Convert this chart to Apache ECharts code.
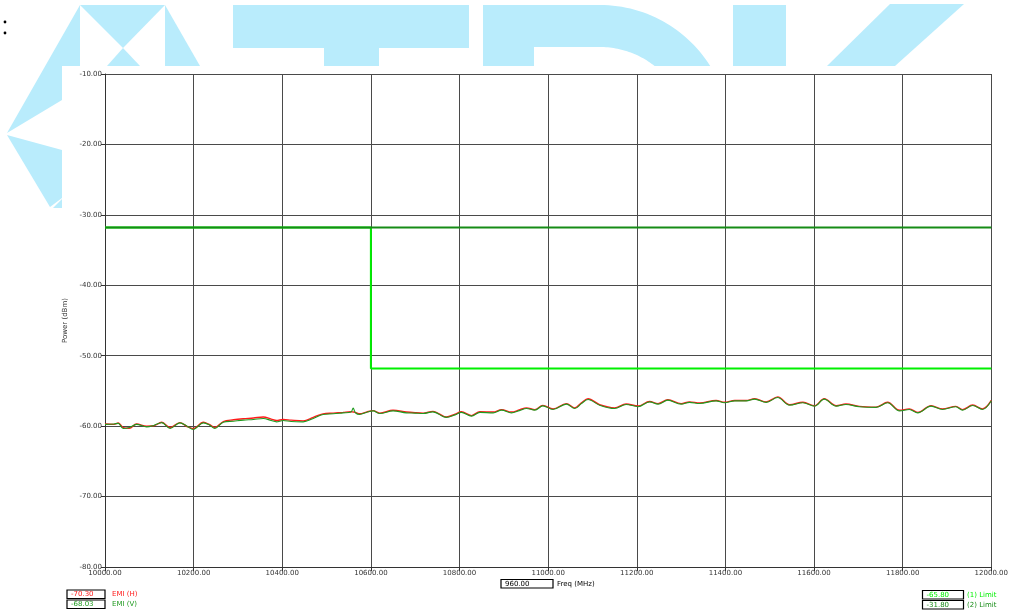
<!DOCTYPE html>
<html><head><meta charset="utf-8">
<script src="https://cdn.jsdelivr.net/npm/echarts@6/dist/echarts.min.js"></script>
<style>html,body{margin:0;padding:0;background:#fff}#c{width:1011px;height:613px}</style>
</head><body><div id="c"></div>
<script>
// ---- data ----
const freq = [10000,10020,10030,10041,10055,10071,10094,10110,10128,10147,10169,10185,10199,10222,10235,10248,10267,10290,10312,10335,10357,10375,10387,10402,10420,10447,10470,10492,10515,10537,10555,10560,10565,10575,10590,10605,10620,10650,10680,10700,10718,10740,10770,10790,10804,10827,10846,10876,10895,10917,10935,10951,10970,10988,11011,11041,11060,11075,11090,11116,11150,11176,11203,11229,11248,11270,11300,11319,11342,11379,11398,11421,11447,11466,11492,11518,11545,11575,11601,11623,11650,11672,11702,11740,11766,11793,11815,11834,11864,11890,11920,11935,11958,11980,12000];
const emiV = [-59.75,-59.7,-59.6,-60.33,-60.2,-59.75,-60.1,-59.9,-59.5,-60.33,-59.53,-60.0,-60.47,-59.53,-59.8,-60.33,-59.45,-59.3,-59.15,-59.05,-58.91,-59.2,-59.39,-59.2,-59.35,-59.39,-58.9,-58.34,-58.25,-58.11,-58.0,-57.44,-58.1,-58.34,-58.05,-57.83,-58.2,-57.83,-58.11,-58.15,-58.2,-57.97,-58.76,-58.4,-58.05,-58.58,-58.05,-58.11,-57.73,-58.11,-57.8,-57.49,-57.73,-57.12,-57.63,-56.88,-57.49,-56.8,-56.21,-57.02,-57.49,-56.92,-57.24,-56.55,-56.88,-56.31,-56.88,-56.63,-56.78,-56.41,-56.68,-56.41,-56.41,-56.17,-56.63,-55.93,-57.02,-56.68,-57.16,-56.17,-57.16,-56.92,-57.24,-57.34,-56.68,-57.83,-57.63,-58.11,-57.16,-57.63,-57.24,-57.73,-57.07,-57.63,-56.4];
const emiH = [-59.7,-59.75,-59.55,-60.2,-60.3,-59.7,-60.0,-59.95,-59.45,-60.2,-59.5,-60.05,-60.35,-59.45,-59.75,-60.2,-59.35,-59.1,-58.95,-58.85,-58.7,-59.0,-59.2,-59.05,-59.15,-59.25,-58.75,-58.25,-58.15,-58.05,-57.95,-58.0,-58.05,-58.25,-58.0,-57.8,-58.15,-57.75,-58.0,-58.1,-58.15,-57.9,-58.7,-58.3,-57.95,-58.5,-57.95,-58.0,-57.65,-58.0,-57.7,-57.4,-57.65,-57.05,-57.55,-56.8,-57.4,-56.7,-56.1,-56.95,-57.4,-56.85,-57.15,-56.5,-56.8,-56.25,-56.8,-56.55,-56.7,-56.35,-56.6,-56.35,-56.35,-56.1,-56.55,-55.85,-56.95,-56.6,-57.1,-56.1,-57.1,-56.85,-57.2,-57.3,-56.6,-57.75,-57.55,-58.05,-57.1,-57.55,-57.2,-57.65,-57.0,-57.55,-56.35];
const limit1Freq = [10000,10600,10600,12000];
const limit1Val  = [-31.8,-31.8,-51.8,-51.8];
const limit2Freq = [10000,12000];
const limit2Val  = [-31.8,-31.8];
const xMin = 10000, xMax = 12000, xStep = 200;
const yMin = -80, yMax = -10, yStep = 10;
const traceNames = ['EMI (H)','EMI (V)'];
const traceReadouts = ['-70.30','-68.03'];
const limitNames = ['(1) Limit','(2) Limit'];
const limitReadouts = ['-65.80','-31.80'];
const freqReadout = '960.00';
const xName = 'Freq (MHz)';
const yName = 'Power (dBm)';

// ---- colors ----
const RED = '#ff1a1a', GREEN = '#1f9a1f', LIME = '#00f000', DKGREEN = '#168c16', WM = '#b9ecfc';

const chart = echarts.init(document.getElementById('c'), null, {renderer:'canvas'});

// watermark decoration
function bowl(){
  const cx=600, cy=135, R=130, r=88, yc=66, pts=[];
  const aO = Math.asin((yc-cy)/R), aI = Math.asin((yc-cy)/r);
  const n=30;
  for(let i=0;i<=n;i++){const a=-Math.PI/2+(aO+Math.PI/2)*i/n;pts.push([cx+R*Math.cos(a),cy+R*Math.sin(a)]);}
  for(let i=n;i>=0;i--){const a=-Math.PI/2+(aI+Math.PI/2)*i/n;pts.push([cx+r*Math.cos(a),cy+r*Math.sin(a)]);}
  return pts;
}
const wmPolys = [
  [[80,5],[80,66],[62,66],[62,100],[7,133]],
  [[80,5],[165,5],[123,48]],
  [[123,48],[140,66],[107,66]],
  [[165,5],[200,66],[165,66]],
  [[7,135],[62,150],[62,198],[50,207]],
  [[62,199],[62,208],[53,208]],
  [[233,5],[469,5],[469,48],[379,48],[379,66],[324,66],[324,48],[233,48]],
  [[483,5],[600,5],[600,47],[534,47],[534,66],[483,66]],
  bowl(),
  [[733,5],[786,5],[786,66],[733,66]],
  [[890,4],[964,4],[895,66],[827,66]]
];
const graphics = wmPolys.map(p=>({type:'polygon', shape:{points:p}, style:{fill:WM}, silent:true, z:-10}));
graphics.push({type:'circle', shape:{cx:5,cy:22,r:1.4}, style:{fill:'#000'}});
graphics.push({type:'circle', shape:{cx:5,cy:33,r:1.4}, style:{fill:'#000'}});

const tf = {fontFamily:'DejaVu Sans', fontSize:7};
function box(x,y,w,h,txt,col){
  graphics.push({type:'rect', shape:{x:x,y:y,width:w,height:h}, style:{fill:'#fff', stroke:'#000', lineWidth:1.2}});
  graphics.push({type:'text', x:x+4, y:y+h/2, style:Object.assign({text:txt, fill:col, verticalAlign:'middle'}, tf)});
}
function lab(x,y,txt,col){
  graphics.push({type:'text', x:x, y:y, style:Object.assign({text:txt, fill:col, verticalAlign:'middle'}, tf)});
}
box(67,590,38,8.5,traceReadouts[0],RED); lab(112,594.5,traceNames[0],RED);
box(67,600,38,8.5,traceReadouts[1],GREEN); lab(112,604.5,traceNames[1],GREEN);
box(501,579.5,52,8.5,freqReadout,'#000'); lab(557,584,xName,'#000');
box(922.5,590.5,41,8.5,limitReadouts[0],LIME); lab(967,595,limitNames[0],LIME);
box(922.5,600.5,41,8.5,limitReadouts[1],DKGREEN); lab(967,605,limitNames[1],DKGREEN);

const pair = (xs,ys)=>xs.map((x,i)=>[x,ys[i]]);

chart.setOption({
  animation:false,
  backgroundColor:'#fff',
  graphic: graphics,
  grid:{left:105, right:19, top:74, bottom:46, show:false},
  xAxis:{type:'value', min:xMin, max:xMax, interval:xStep,
    axisLine:{show:true, lineStyle:{color:'#333', width:1}},
    axisTick:{show:true, length:4, lineStyle:{color:'#333'}},
    axisLabel:{color:'#333', fontFamily:'DejaVu Sans', fontSize:7, margin:3, formatter:v=>v.toFixed(2)},
    splitLine:{show:true, lineStyle:{color:'#4a4a4a', width:1}}},
  yAxis:{type:'value', min:yMin, max:yMax, interval:yStep,
    name:yName, nameLocation:'middle', nameGap:36, nameTextStyle:{color:'#333', fontFamily:'DejaVu Sans', fontSize:7},
    axisLine:{show:true, lineStyle:{color:'#333', width:1}},
    axisTick:{show:true, length:4, lineStyle:{color:'#333'}},
    axisLabel:{color:'#333', fontFamily:'DejaVu Sans', fontSize:7, margin:3, formatter:v=>v.toFixed(2)},
    splitLine:{show:true, lineStyle:{color:'#4a4a4a', width:1}}},
  series:[
    {type:'line', name:'(1) Limit', data:pair(limit1Freq,limit1Val), showSymbol:false, lineStyle:{color:LIME, width:2}, z:3},
    {type:'line', name:'(2) Limit', data:pair(limit2Freq,limit2Val), showSymbol:false, lineStyle:{color:DKGREEN, width:2}, z:4},
    {type:'line', name:traceNames[0], data:pair(freq,emiH), smooth:0.35, showSymbol:false, lineStyle:{color:RED, width:1.4}, z:5},
    {type:'line', name:traceNames[1], data:pair(freq,emiV), smooth:0.35, showSymbol:false, lineStyle:{color:GREEN, width:1.1}, z:6}
  ]
});
</script></body></html>
